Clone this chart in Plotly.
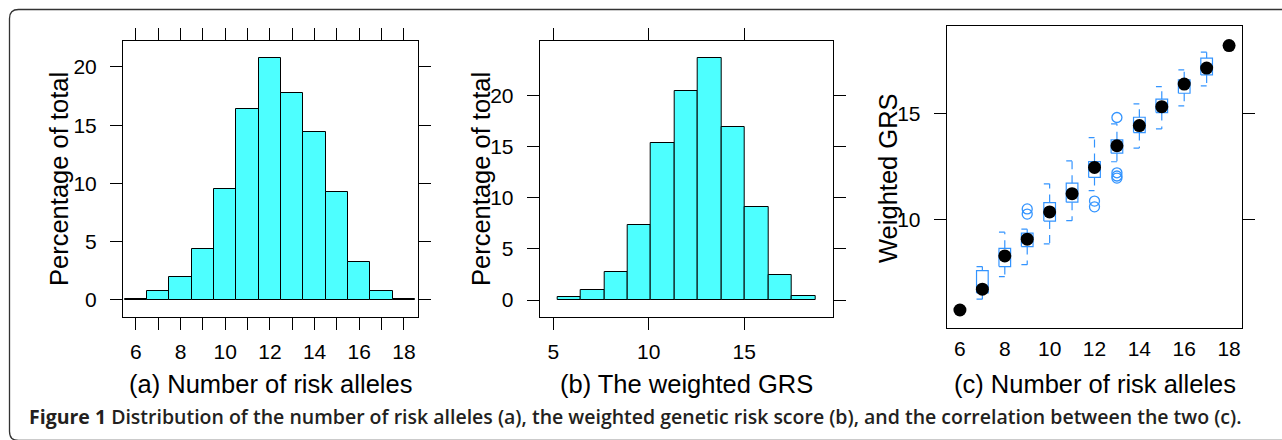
import plotly.graph_objects as go

W, H = 1282, 440

# ---------------- data ----------------
# (a) Number of risk alleles histogram (percent of total)
a_alleles = [6, 7, 8, 9, 10, 11, 12, 13, 14, 15, 16, 17, 18]
a_percent = [0.1, 0.8, 2.0, 4.4, 9.5, 16.4, 20.8, 17.8, 14.45, 9.25, 3.25, 0.8, 0.12]
a_tick_vals = [6, 7, 8, 9, 10, 11, 12, 13, 14, 15, 16, 17, 18]
a_tick_text = ["6", "", "8", "", "10", "", "12", "", "14", "", "16", "", "18"]

# (b) Weighted GRS histogram
b_edges = [5.23, 6.45, 7.67, 8.90, 10.12, 11.34, 12.58, 13.82, 15.04, 16.26, 17.49, 18.72]
b_percent = [0.26, 1.0, 2.7, 7.37, 15.33, 20.42, 23.72, 16.93, 9.14, 2.48, 0.39]
b_tick_vals = [5, 10, 15]
hist_y_ticks = [0, 5, 10, 15, 20]

# (c) Weighted GRS by number of risk alleles (box-and-whisker)
c_alleles = [6, 7, 8, 9, 10, 11, 12, 13, 14, 15, 16, 17, 18]
c_median = [5.75, 6.73, 8.29, 9.08, 10.36, 11.22, 12.45, 13.47, 14.42, 15.31, 16.37, 17.12, 18.18]
box_alleles = [7, 8, 9, 10, 11, 12, 13, 14, 15, 16, 17]
box_q1 = [6.55, 7.79, 8.73, 9.93, 10.82, 11.98, 13.12, 14.09, 15.03, 15.94, 16.80]
box_q3 = [7.60, 8.65, 9.36, 10.80, 11.71, 12.73, 13.75, 14.81, 15.66, 16.57, 17.59]
box_lo = [6.26, 7.32, 7.88, 8.86, 9.95, 11.36, 12.72, 13.36, 14.26, 15.35, 16.29]
box_hi = [7.79, 9.41, 9.55, 11.68, 12.76, 13.85, 14.50, 15.44, 16.25, 17.04, 17.87]
out_alleles = [9, 9, 12, 12, 13, 13, 13, 13]
out_grs = [10.50, 10.26, 10.87, 10.60, 14.80, 12.20, 12.05, 11.95]
c_x_ticks = [6, 8, 10, 12, 14, 16, 18]
c_y_ticks = [10, 15]

# ---------------- styles ----------------
CYAN = "#4dffff"
BLUE = "#3394ff"
FONT = "Liberation Sans, Arial, Helvetica, sans-serif"
TICK_SIZE = 21
TITLE_SIZE = 25.5
BOX_HALF = 0.26


def px(x):
    return x / W


def py(y):
    return 1 - y / H


fig = go.Figure()

# (a)
fig.add_trace(go.Bar(
    x=a_alleles, y=a_percent, width=[1.0] * len(a_alleles),
    marker=dict(color=CYAN, line=dict(color="black", width=1)),
    xaxis="x", yaxis="y", hoverinfo="x+y"))

# (b)
b_centers = [(b_edges[i] + b_edges[i + 1]) / 2 for i in range(len(b_percent))]
b_widths = [b_edges[i + 1] - b_edges[i] for i in range(len(b_percent))]
fig.add_trace(go.Bar(
    x=b_centers, y=b_percent, width=b_widths,
    marker=dict(color=CYAN, line=dict(color="black", width=1)),
    xaxis="x2", yaxis="y2", hoverinfo="x+y"))

# (c) boxes
bx, by = [], []
wx, wy = [], []
cx, cy = [], []
for x, q1, q3, lo, hi in zip(box_alleles, box_q1, box_q3, box_lo, box_hi):
    bx += [x - BOX_HALF, x + BOX_HALF, x + BOX_HALF, x - BOX_HALF, x - BOX_HALF, None]
    by += [q1, q1, q3, q3, q1, None]
    wx += [x, x, None, x, x, None]
    wy += [q3, hi, None, q1, lo, None]
    cx += [x - BOX_HALF, x, None, x - BOX_HALF, x, None]
    cy += [hi, hi, None, lo, lo, None]

fig.add_trace(go.Scatter(x=wx, y=wy, mode="lines",
                         line=dict(color=BLUE, width=1.2, dash="8px,6px"),
                         xaxis="x3", yaxis="y3", hoverinfo="skip"))
fig.add_trace(go.Scatter(x=cx, y=cy, mode="lines",
                         line=dict(color=BLUE, width=1.2),
                         xaxis="x3", yaxis="y3", hoverinfo="skip"))
fig.add_trace(go.Scatter(x=bx, y=by, mode="lines",
                         line=dict(color=BLUE, width=1.2),
                         xaxis="x3", yaxis="y3", hoverinfo="skip"))
fig.add_trace(go.Scatter(x=out_alleles, y=out_grs, mode="markers",
                         marker=dict(symbol="circle-open", size=10, color=BLUE,
                                     line=dict(width=1.3, color=BLUE)),
                         xaxis="x3", yaxis="y3"))
fig.add_trace(go.Scatter(x=c_alleles, y=c_median, mode="markers",
                         marker=dict(symbol="circle", size=13, color="black"),
                         xaxis="x3", yaxis="y3"))

axis_common = dict(showline=True, linecolor="black", linewidth=1,
                   showgrid=False, zeroline=False, ticks="outside",
                   ticklen=12, tickwidth=1, tickcolor="black",
                   tickfont=dict(family=FONT, size=TICK_SIZE, color="black"))

fig.update_layout(
    width=W, height=H, autosize=False,
    margin=dict(l=0, r=0, t=0, b=0),
    paper_bgcolor="white", plot_bgcolor="white",
    showlegend=False, bargap=0,
    xaxis=dict(axis_common, domain=[px(123), px(418)], range=[5.42, 18.63],
               tickmode="array", tickvals=a_tick_vals, ticktext=a_tick_text,
               mirror="ticks", anchor="y", ticklabelstandoff=4),
    yaxis=dict(axis_common, domain=[py(317), py(41)], range=[-1.46, 22.23],
               tickmode="array", tickvals=hist_y_ticks,
               mirror="ticks", anchor="x", ticklabelstandoff=9),
    xaxis2=dict(axis_common, domain=[px(539.7), px(833.3)], range=[4.29, 19.66],
                tickmode="array", tickvals=b_tick_vals,
                mirror="ticks", anchor="y2", ticklabelstandoff=4),
    yaxis2=dict(axis_common, domain=[py(317), py(41)], range=[-1.66, 25.35],
                tickmode="array", tickvals=hist_y_ticks,
                mirror="ticks", anchor="x2", ticklabelstandoff=9),
    xaxis3=dict(axis_common, domain=[px(946.7), px(1242.3)], range=[5.41, 18.59],
                tickmode="array", tickvals=c_x_ticks, ticks="", ticklen=0,
                mirror=True, anchor="y3", ticklabelstandoff=1),
    yaxis3=dict(axis_common, domain=[py(328.3), py(26)], range=[4.89, 19.10],
                tickmode="array", tickvals=c_y_ticks,
                mirror="ticks", anchor="x3", ticklabelstandoff=9),
)

title_font = dict(family=FONT, size=TITLE_SIZE, color="black")
annotations = [
    dict(text="(a) Number of risk alleles", x=px(270.5), y=py(384)),
    dict(text="(b) The weighted GRS", x=px(686.5), y=py(384)),
    dict(text="(c) Number of risk alleles", x=px(1094.5), y=py(384)),
    dict(text="Percentage of total", x=px(59), y=py(179), textangle=-90),
    dict(text="Percentage of total", x=px(481), y=py(179), textangle=-90),
    dict(text="Weighted GRS", x=px(888), y=py(178), textangle=-90),
]
for a in annotations:
    a.update(xref="paper", yref="paper", showarrow=False,
             xanchor="center", yanchor="middle", font=title_font)
annotations.append(dict(
    text="<b>Figure 1</b> Distribution of the number of risk alleles (a), the weighted "
         "genetic risk score (b), and the correlation between the two (c).",
    x=px(27), y=py(416), xref="paper", yref="paper", showarrow=False,
    xanchor="left", yanchor="middle",
    font=dict(family="Open Sans, Noto Sans, sans-serif", size=19.5,
              color="#231f20", weight=600)))
fig.update_layout(annotations=annotations)

# rounded border of the figure box
r = 9
L, T, B, R = 9.5, 9.5, 440.5, 1300
path = (f"M {px(L)},{py(B - r)} L {px(L)},{py(T + r)} "
        f"Q {px(L)},{py(T)} {px(L + r)},{py(T)} L {px(R)},{py(T)} "
        f"M {px(L)},{py(B - r)} Q {px(L)},{py(B)} {px(L + r)},{py(B)} L {px(R)},{py(B)}")
fig.add_shape(type="path", path=path, xref="paper", yref="paper",
              line=dict(color="#333333", width=1.3))

fig.write_html("out.html",
               config={"displayModeBar": False},
               post_script="document.body.style.margin='0';"
                           "document.body.style.overflow='hidden';")
